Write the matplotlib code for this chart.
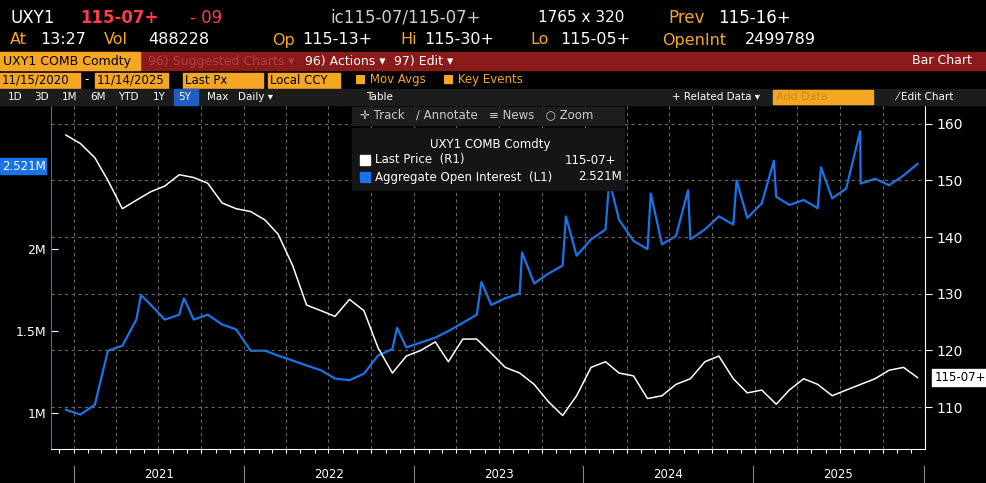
import numpy as np
import pandas as pd
import matplotlib
matplotlib.use("Agg")
from matplotlib import pyplot as plt
from matplotlib.patches import Rectangle

months = pd.date_range("2020-11-15", periods=61, freq="MS") + pd.Timedelta(days=14)

price = [158, 156.5, 154, 150, 145, 146.5, 148, 149, 151, 150.5, 149.5, 146, 145, 144.5,
         143, 140.5, 135, 128, 127, 126, 129, 127, 120.5, 116, 119, 120,
         121.5, 118, 122, 122, 119.5, 117, 116, 114, 111, 108.5, 112, 117,
         118, 116, 115.5, 111.5, 112, 114, 115, 118, 119, 115, 112.5, 113,
         110.5, 113, 115, 114, 112, 113, 114, 115, 116.5, 117, 115.2]

oi = [1.02, 0.99, 1.05, 1.38, 1.41, 1.57, 1.66, 1.57, 1.60, 1.57, 1.60, 1.54, 1.51, 1.38,
      1.38, 1.35, 1.32, 1.29, 1.26, 1.21, 1.20, 1.24, 1.35, 1.39, 1.40, 1.43,
      1.46, 1.50, 1.55, 1.60, 1.66, 1.70, 1.73, 1.79, 1.85, 1.90, 1.96, 2.06,
      2.12, 2.18, 2.05, 2.00, 2.03, 2.08, 2.06, 2.12, 2.20, 2.15, 2.19, 2.28,
      2.32, 2.27, 2.30, 2.25, 2.31, 2.37, 2.40, 2.43, 2.39, 2.45, 2.521]

spike_dates = pd.to_datetime(["2021-05-25", "2021-08-25", "2022-11-25", "2023-05-25",
                              "2023-08-20", "2023-11-22", "2024-02-23", "2024-05-22",
                              "2024-08-10", "2024-11-22", "2025-02-10", "2025-05-22",
                              "2025-08-14"])
spike_vals = [1.72, 1.70, 1.52, 1.80, 1.98, 2.20, 2.42, 2.34, 2.36, 2.42, 2.54, 2.50, 2.72]

year_labels = ["2021", "2022", "2023", "2024", "2025"]
left_ticks = [1.0, 1.5, 2.0]
left_labels = ["1M", "1.5M", "2M"]
right_ticks = [110, 120, 130, 140, 150, 160]

ORANGE = "#f5a623"
BLUE = "#1a73e8"

oi_s = pd.Series(oi, index=months)
oi_s = pd.concat([oi_s, pd.Series(spike_vals, index=spike_dates)]).sort_index()
oi_s = pd.concat([oi_s, pd.Series(np.nan, index=spike_dates + pd.Timedelta(days=5))]).sort_index()
oi_s = pd.concat([oi_s, pd.Series(np.nan, index=spike_dates - pd.Timedelta(days=5))]).sort_index()
oi_s = oi_s.interpolate(method="time")

W, H = 986, 483
fig = plt.figure(figsize=(W / 100, H / 100), dpi=100, facecolor="black")

def px(x0, y0, x1, y1):
    return [x0 / W, 1 - y1 / H, (x1 - x0) / W, (y1 - y0) / H]

def t(x, y, s, c="white", size=11.5, **kw):
    fig.text(x / W, 1 - y / H, s, color=c, fontsize=size, va="center", **kw)

# header
t(10, 18, "UXY1", size=12)
t(80, 18, "115-07+", c="#ff3b4f", size=12, weight="bold")
t(190, 18, "- 09", c="#ff3b4f", size=12)
t(330, 18, "ic115-07/115-07+", c="#cfcfcf", size=12)
t(538, 18, "1765 x 320", size=11)
t(668, 18, "Prev", c=ORANGE, size=12)
t(718, 18, "115-16+", size=12)
t(10, 40, "At", c=ORANGE)
t(40, 40, "13:27", size=11.5)
t(104, 40, "Vol", c=ORANGE)
t(148, 40, "488228")
t(272, 40, "Op", c=ORANGE)
t(302, 40, "115-13+")
t(400, 40, "Hi", c=ORANGE)
t(424, 40, "115-30+")
t(530, 40, "Lo", c=ORANGE)
t(560, 40, "115-05+")
t(662, 40, "OpenInt", c=ORANGE)
t(745, 40, "2499789")

fig.patches.append(Rectangle((0, 1 - 70 / H), 1, 18 / H, transform=fig.transFigure, color="#8b1a1a"))
fig.patches.append(Rectangle((0, 1 - 70 / H), 140 / W, 18 / H, transform=fig.transFigure, color=ORANGE))
t(3, 61, "UXY1 COMB Comdty", c="black", size=9)
t(148, 61, "96) Suggested Charts \u25be", c="#b04040", size=9)
t(305, 61, "96) Actions \u25be", size=9)
t(394, 61, "97) Edit \u25be", size=9)
t(912, 61, "Bar Chart", size=9)

for x0, x1, s in [(0, 80, "11/15/2020"), (95, 168, "11/14/2025"), (183, 263, "Last Px"), (268, 340, "Local CCY")]:
    fig.patches.append(Rectangle((x0 / W, 1 - 88 / H), (x1 - x0) / W, 15 / H, transform=fig.transFigure, color=ORANGE))
    t(x0 + 2, 80, s, c="black", size=8.5)
t(84, 80, "-", size=8.5)
t(355, 80, "\u25a0 Mov Avgs", c=ORANGE, size=8.5)
t(443, 80, "\u25a0 Key Events", c=ORANGE, size=8.5)

fig.patches.append(Rectangle((0, 1 - 105 / H), 1, 16 / H, transform=fig.transFigure, color="#1c1c1c"))
fig.patches.append(Rectangle((174 / W, 1 - 105 / H), 24 / W, 16 / H, transform=fig.transFigure, color="#1f5fbf"))
for x, s in [(8, "1D"), (34, "3D"), (62, "1M"), (90, "6M"), (118, "YTD"), (153, "1Y"), (178, "5Y"),
             (207, "Max"), (238, "Daily \u25be"), (366, "Table"), (672, "+ Related Data \u25be"), (897, "\u2044 Edit Chart")]:
    t(x, 97, s, size=7.5)
fig.patches.append(Rectangle((773 / W, 1 - 104 / H), 100 / W, 14 / H, transform=fig.transFigure, color=ORANGE))
t(776, 97, "Add Data", c="#c98a1a", size=8)

# main axes
ax = fig.add_axes(px(51, 105, 925, 449), facecolor="black")
ax.plot(oi_s.index, oi_s.values, color=BLUE, lw=1.6)
ax.set_ylim(0.78, 2.88)
ax.set_xlim(pd.Timestamp("2020-11-13"), pd.Timestamp("2025-12-31"))
ax.set_yticks(left_ticks)
ax.set_yticklabels(left_labels)
ax.tick_params(axis="y", colors="white", labelsize=9, length=5, direction="in")
ax.tick_params(axis="x", colors="white", length=3, labelbottom=False)
ax.set_xticks(pd.date_range("2020-12-01", "2025-12-01", freq="MS"))
for sp in ["top", "right"]:
    ax.spines[sp].set_visible(False)
ax.spines["left"].set_color(BLUE)
ax.spines["bottom"].set_color("white")

ax2 = ax.twinx()
ax2.plot(months, price, color="white", lw=1.1)
ax2.set_ylim(102.6, 163.3)
ax2.set_yticks(right_ticks)
ax2.tick_params(axis="y", colors="white", labelsize=10, length=5)
for sp in ["top", "left", "bottom"]:
    ax2.spines[sp].set_visible(False)
ax2.spines["right"].set_color("white")
for v in right_ticks:
    ax2.axhline(v, color="#666666", lw=0.8, ls=(0, (3, 3)), zorder=0)
for d in pd.date_range("2021-01-01", "2025-12-31", freq="QS"):
    ax2.axvline(d, color="#666666", lw=0.8, ls=(0, (3, 3)), zorder=0)

# value tags
fig.patches.append(Rectangle((0, 1 - 174 / H), 46 / W, 16 / H, transform=fig.transFigure, color=BLUE))
t(2, 166, "2.521M", size=8.5)
ax2.annotate("115-07+", xy=(1, 115.2), xycoords=("axes fraction", "data"), xytext=(7, 0),
             textcoords="offset points", color="black", fontsize=8.5, va="center",
             bbox=dict(boxstyle="square,pad=0.2", fc="white", ec="white"))

# legend box
fig.patches.append(Rectangle((352 / W, 1 - 190 / H), 272 / W, 62 / H, transform=fig.transFigure, color="#151515"))
fig.patches.append(Rectangle((352 / W, 1 - 125 / H), 272 / W, 18 / H, transform=fig.transFigure, color="#1e1e1e"))
t(360, 115, "\u271b Track   \u2215 Annotate   \u2261 News   \u25cb Zoom", c="#cccccc", size=8.5)
t(430, 145, "UXY1 COMB Comdty", size=8.5)
fig.patches.append(Rectangle((360 / W, 1 - 165 / H), 10 / W, 10 / H, transform=fig.transFigure, color="white"))
fig.patches.append(Rectangle((360 / W, 1 - 182 / H), 10 / W, 10 / H, transform=fig.transFigure, color=BLUE))
t(375, 160, "Last Price  (R1)", size=8.5)
t(565, 160, "115-07+", size=8.5)
t(375, 177, "Aggregate Open Interest  (L1)", size=8.5)
t(578, 177, "2.521M", size=8.5)

# year strip
for i, y in enumerate(year_labels):
    x0 = 74 + i * 169.8
    fig.lines.append(plt.Line2D([x0 / W, x0 / W], [0, 17 / H], color="#888888", lw=0.8, transform=fig.transFigure))
    t(x0 + 85, 475, y, size=8.5, ha="center")
fig.lines.append(plt.Line2D([924 / W, 924 / W], [0, 17 / H], color="#888888", lw=0.8, transform=fig.transFigure))

fig.savefig("out.png", dpi=100, facecolor="black")
